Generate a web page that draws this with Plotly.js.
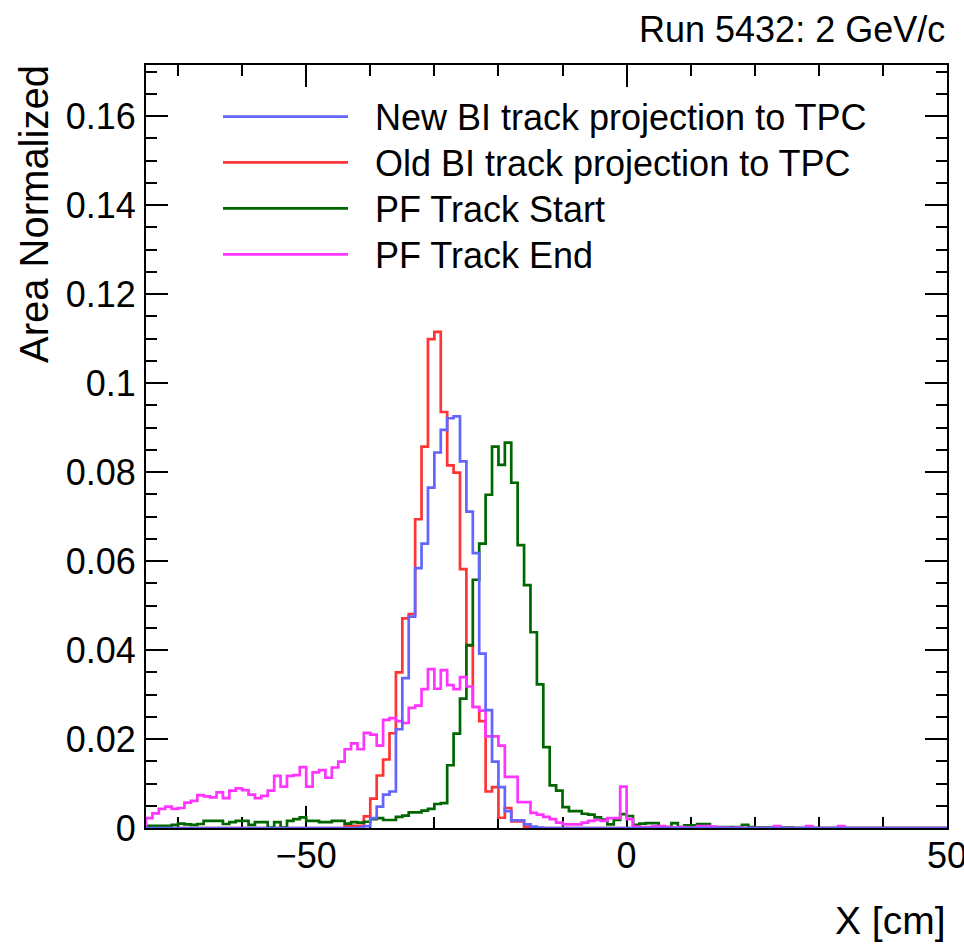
<!DOCTYPE html>
<html>
<head>
<meta charset="utf-8">
<script src="https://cdn.plot.ly/plotly-3.0.1.min.js"></script>
<style>
  html, body { margin: 0; padding: 0; background: #ffffff; }
  #chart { width: 964px; height: 945px; }
</style>
</head>
<body>
<div id="chart"></div>
<script>
// Histogram binning: 125 bins of 1 cm, first bin starting at -75 cm
const binLow = -75;
const binWidth = 1;

// Bin contents (area normalized), bins from -75 to 49 (lower edges)
const newBI = [
  0,0,0,0,0,0,0,0,0,0,
  0,0,0,0,0,0,0,0,0,0,
  0,0,0,0,0,0,0,0,0,0,
  0,0,0,0.0001,0.0004,0.0022,0.0048,0.0075,0.0082,0.0222,
  0.0337,0.0475,0.0584,0.0639,0.0765,0.0844,0.0895,0.0921,0.0925,0.0824,
  0.0711,0.0618,0.0392,0.0265,0.0149,0.0092,0.0038,0.0017,0.0017,0.0008,
  0.0003,0.0001,0,0,0,0,0,0,0,0,
  0,0,0,0,0,0,0,0,0,0,
  0,0,0,0,0,0,0,0,0,0,
  0,0,0,0,0,0,0,0,0,0,
  0,0,0,0,0,0,0,0,0,0,
  0,0,0,0,0,0,0,0,0,0,
  0,0,0,0,0
];

const oldBI = [
  0,0,0,0,0,0,0,0,0,0,
  0,0,0,0,0,0,0,0,0,0,
  0,0,0,0,0,0,0,0,0,0,
  0,0.0005,0.0005,0.0005,0.0026,0.0066,0.0118,0.0154,0.0213,0.0350,
  0.0471,0.0481,0.0694,0.0857,0.1099,0.1115,0.0935,0.0815,0.0799,0.0582,
  0.0410,0.0272,0.0240,0.0082,0.0092,0.0023,0.0045,0.0015,0.0015,0.0003,
  0,0,0,0,0,0,0,0,0,0,
  0,0,0,0,0,0,0,0,0,0,
  0,0,0,0,0,0,0,0,0,0,
  0,0,0,0,0,0,0,0,0,0,
  0,0,0,0,0,0,0,0,0,0,
  0,0,0,0,0,0,0,0,0,0,
  0,0,0,0,0
];

const pfStart = [
  0.0005,0.0005,0.0005,0.0005,0.0007,0.0010,0.0008,0.0007,0.0009,0.0016,
  0.0016,0.0016,0.0009,0.0013,0.0016,0.0016,0.0007,0.0013,0.0013,0.0001,
  0.0013,0.0001,0.0016,0.0020,0.0024,0.0016,0.0016,0.0013,0.0013,0.0016,
  0.0016,0.0010,0.0013,0.0012,0.0014,0.0020,0.0022,0.0018,0.0018,0.0025,
  0.0028,0.0035,0.0035,0.0039,0.0043,0.0054,0.0056,0.0141,0.0212,0.0291,
  0.0411,0.0558,0.0639,0.0749,0.0857,0.0816,0.0866,0.0776,0.0636,0.0546,
  0.0440,0.0323,0.0182,0.0096,0.0084,0.0047,0.0038,0.0038,0.0032,0.0030,
  0.0024,0.0019,0.0008,0.0018,0.0031,0.0027,0.0007,0.0010,0.0011,0.0011,
  0.0002,0.0002,0.0011,0.0002,0.0006,0.0006,0.0009,0.0009,0.0002,0.0002,
  0.0002,0.0002,0.0002,0.0007,0.0002,0.0001,0.0001,0.0001,0.0001,0.0001,
  0.0001,0,0,0,0,0,0,0,0,0,
  0,0,0,0,0,0,0,0,0,0,
  0,0,0,0,0
];

const pfEnd = [
  0.0022,0.0033,0.0043,0.0048,0.0043,0.0045,0.0057,0.0061,0.0074,0.0071,
  0.0069,0.0080,0.0067,0.0084,0.0089,0.0085,0.0075,0.0067,0.0072,0.0084,
  0.0117,0.0093,0.0117,0.0119,0.0137,0.0093,0.0125,0.0130,0.0113,0.0136,
  0.0149,0.0177,0.0190,0.0177,0.0214,0.0210,0.0185,0.0243,0.0247,0.0240,
  0.0236,0.0270,0.0275,0.0312,0.0357,0.0313,0.0355,0.0321,0.0312,0.0339,
  0.0318,0.0272,0.0264,0.0206,0.0206,0.0185,0.0115,0.0115,0.0058,0.0058,
  0.0034,0.0030,0.0025,0.0020,0.0012,0.0008,0.0008,0.0008,0.0012,0.0016,
  0.0018,0.0016,0.0022,0.0022,0.0093,0.0020,0.0003,0.0002,0.0002,0.0004,
  0.0004,0.0002,0.0001,0.0002,0.0001,0.0001,0.0004,0.0004,0.0003,0.0001,
  0.0001,0,0.0001,0,0,0,0,0,0.0004,0,
  0,0,0,0.0004,0,0,0,0,0.0004,0,
  0,0,0,0,0,0,0,0,0,0,
  0,0,0,0,0
];

const seriesNames = [
  "New BI track projection to TPC",
  "Old BI track projection to TPC",
  "PF Track Start",
  "PF Track End"
];
const seriesColors = ["#6464ff", "#ff3434", "#006600", "#ff35ff"];

const xTitle = "X [cm]";
const yTitle = "Area Normalized";
const runLabel = "Run 5432: 2 GeV/c";

const FONT = "Liberation Sans, Arial, Helvetica, sans-serif";

function stepTrace(vals, name, color) {
  const xs = [binLow];
  const ys = [0];
  for (let i = 0; i < vals.length; i++) {
    xs.push(binLow + i * binWidth);
    ys.push(vals[i]);
  }
  const xEnd = binLow + vals.length * binWidth;
  xs.push(xEnd); ys.push(vals[vals.length - 1]);
  xs.push(xEnd); ys.push(0);
  return {
    type: "scatter", mode: "lines", name: name, x: xs, y: ys,
    line: { shape: "hv", color: color, width: 2.7 },
    hoverinfo: "skip", showlegend: false
  };
}

const allSeries = [newBI, oldBI, pfStart, pfEnd];
// draw order: old, start, end, then new on top
const order = [1, 2, 3, 0];
const data = order.map(k => stepTrace(allSeries[k], seriesNames[k], seriesColors[k]));

// plot area in pixels
const L = 146, R = 947, T = 65, B = 828;
const W = 964, H = 945;
const px = x => (x - L) / (R - L);
const py = y => (B - y) / (B - T);

const annotations = [];
const shapes = [];

// custom ROOT-like legend
const legendRows = [116.7, 162.3, 208.3, 254.3];
for (let k = 0; k < 4; k++) {
  shapes.push({
    type: "line", xref: "paper", yref: "paper",
    x0: px(223), x1: px(348), y0: py(legendRows[k]), y1: py(legendRows[k]),
    line: { color: seriesColors[k], width: 2.7 }
  });
  annotations.push({
    xref: "paper", yref: "paper", x: px(373), y: py(legendRows[k] + 1),
    xanchor: "left", yanchor: "middle", showarrow: false,
    text: seriesNames[k], font: { family: FONT, size: 36, color: "#000" }
  });
}

annotations.push({
  xref: "paper", yref: "paper", x: px(947), y: py(29),
  xanchor: "right", yanchor: "middle", showarrow: false,
  text: runLabel, font: { family: FONT, size: 36, color: "#000" }
});
annotations.push({
  xref: "paper", yref: "paper", x: px(948), y: py(920),
  xanchor: "right", yanchor: "middle", showarrow: false,
  text: xTitle, font: { family: FONT, size: 39, color: "#000" }
});
annotations.push({
  xref: "paper", yref: "paper", x: px(34), y: py(63),
  xanchor: "center", yanchor: "top", showarrow: false, textangle: -90,
  text: yTitle, font: { family: FONT, size: 40, color: "#000" }
});

const axisCommon = {
  showgrid: false, zeroline: false,
  showline: true, linecolor: "#000", linewidth: 2, mirror: "ticks",
  ticks: "inside", tickwidth: 2, tickcolor: "#000", ticklen: 22,
  tickfont: { family: FONT, size: 36, color: "#000" },
  ticklabeloverflow: "allow",
  layer: "below traces"
};

const layout = {
  width: W, height: H,
  margin: { l: L, r: W - R, t: T, b: H - B, pad: 0 },
  paper_bgcolor: "#ffffff", plot_bgcolor: "#ffffff",
  showlegend: false,
  xaxis: Object.assign({}, axisCommon, {
    range: [binLow, 50], tick0: 0, dtick: 50,
    ticklabelstandoff: -5,
    minor: { tick0: 0, dtick: 10, ticks: "inside", ticklen: 11, tickwidth: 2, tickcolor: "#000" }
  }),
  yaxis: Object.assign({}, axisCommon, {
    range: [0, 0.1715], tick0: 0, dtick: 0.02,
    ticklabelstandoff: 1,
    minor: { tick0: 0, dtick: 0.005, ticks: "inside", ticklen: 11, tickwidth: 2, tickcolor: "#000" }
  }),
  annotations: annotations,
  shapes: shapes
};

Plotly.newPlot("chart", data, layout, { displayModeBar: false, staticPlot: true });
</script>
</body>
</html>
